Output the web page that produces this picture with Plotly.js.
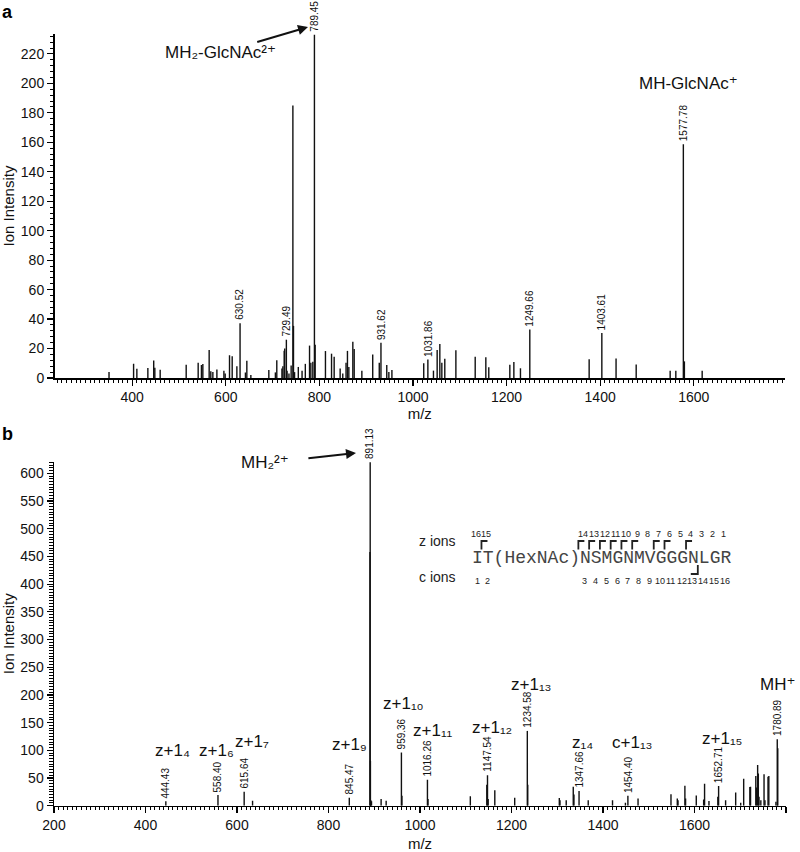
<!DOCTYPE html>
<html>
<head>
<meta charset="utf-8">
<script src="https://cdn.plot.ly/plotly-3.0.1.min.js"></script>
<style>html,body{margin:0;padding:0;background:#fff;}#chart{width:800px;height:852px;}</style>
</head>
<body>
<div id="chart"></div>
<script>
// ---------- Panel a data ----------
const peaksA_mz = [350.5,403,410,433.5,446,448.4,459.8,515.4,541,548,551,564.5,568,572.4,581,596,598.7,608,613.7,623.7,630.52,642,645,653.6,692,706,709,720,722,724.8,726,729.49,731,735,739.7,743.4,744.7,747,755,763,770,779,781.8,786,789.45,791,813,826,831.6,844.4,850,857,860,863,871.5,874.4,890.8,914,928,931.62,944,948.5,955,1023,1031.86,1043.8,1051.7,1057.4,1061.7,1068,1091.7,1133,1155.7,1162,1207,1215.6,1229.7,1249.66,1376.5,1403.61,1434,1477,1549.6,1561.7,1577.78,1580,1618];
const peaksA_int = [4,9.7,6.3,6.8,11.9,7,5.6,9,10.4,8.8,9.5,19,4.5,4,5.8,5,3,15.5,14.7,8,37.2,3.8,11.7,2,5.4,3.8,12,6.5,8,18.5,20,26,5,3,8.5,185,35.4,4,7.5,5,9.6,22,10.3,11,233,22.6,18.3,16.5,14.4,6.5,3,10.4,18.4,7.5,24.6,19.6,5,16,10.4,24,8.8,4,5.5,10,12.5,5,19,23,10.4,13,18.8,14.5,14,7.3,9,10.8,6.6,33,12.8,30.5,13.3,9.2,5,5,158.6,11.3,5];
const labelsA = [630.52,729.49,789.45,931.62,1031.86,1249.66,1403.61,1577.78];

// ---------- Panel b data ----------
const peaksB_mz = [444.43,558.40,615.64,634,845.47,890.63,891.13,891.63,892.5,894,915,926,959.36,960.5,1016.26,1017.5,1110,1146.0,1147.54,1149,1163.5,1207,1234.58,1235.5,1304.5,1306,1319.6,1335,1336.5,1347.66,1367.7,1420.8,1449,1454.40,1476.6,1548.6,1562.4,1564,1579,1580.5,1603.9,1620,1622,1631.6,1651,1652.71,1668,1690,1701,1707.5,1721,1722.5,1734,1735.5,1738,1739.5,1741,1745,1752,1754,1760.7,1762.5,1778,1780.89,1782];
const peaksB_int = [8,19.3,25,9,14.5,458,620,81,10,8,12,9,96,18,47,12,17,38,55,12,28,14.4,135,38,14,10,10,34,20,26.5,10,10,5.4,18,13,20.5,13,10,36,13,18.6,11,39.7,8.4,16,35.5,10,24,5.4,48.7,33.7,34,53.5,33,73.4,58,16,10,56.6,10,52.3,53.5,7,120,103.5];
const labelsB = [444.43,558.40,615.64,845.47,891.13,959.36,1016.26,1147.54,1234.58,1347.66,1454.40,1652.71,1780.89];

// fragment ion names (panel b) and their positions in data units
const ionNames = ['z+1₄','z+1₆','z+1₇','z+1₉','z+1₁₀','z+1₁₁','z+1₁₂','z+1₁₃','z₁₄','c+1₁₃','z+1₁₅','MH⁺'];
const ionX = [458.6,555.8,633.4,846.4,963.5,1027.7,1156.5,1243.9,1355.3,1463.4,1660,1782.4];
const ionY = [100.5,100.5,116.8,109.6,185,136.6,142,218,115,115,122,218];

// peptide sequence diagram
const sequence = 'IT(HexNAc)NSMGNMVGGGNLGR';
const zNumbers = ['16','15','14','13','12','11','10','9','8','7','6','5','4','3','2','1'];
const zNumberChar = [0,1,10,11,12,13,14,15,16,17,18,19,20,21,22,23];
const cNumbers = ['1','2','3','4','5','6','7','8','9','10','11','12','13','14','15','16'];
const cNumberChar = [0,1,10,11,12,13,14,15,16,17,18,19,20,21,22,23];
const zBracketChar = [1,10,11,12,13,14,15,17,18,20];
const cBracketChar = [20];

// ---------- build ----------
function sticks(mz, inten){
  const x=[], y=[];
  for(let i=0;i<mz.length;i++){ x.push(mz[i],mz[i],null); y.push(0,inten[i],null); }
  return {x,y};
}
const sA = sticks(peaksA_mz, peaksA_int);
const sB = sticks(peaksB_mz, peaksB_int);

const SANS = "'Liberation Sans',Arial,'DejaVu Sans',sans-serif";
const W=800, H=852;
const px = v => v/W, py = v => 1 - v/H;

const traces = [
  {x:sA.x, y:sA.y, xaxis:'x', yaxis:'y', mode:'lines', line:{color:'#111', width:1.4}, hoverinfo:'skip', showlegend:false},
  {x:sB.x, y:sB.y, xaxis:'x2', yaxis:'y2', mode:'lines', line:{color:'#111', width:1.4}, hoverinfo:'skip', showlegend:false}
];

const ann = [];
function addPeakLabels(list, mz, inten, xr, yr){
  list.forEach(v=>{
    const i = mz.indexOf(v);
    ann.push({x:v, y:inten[i], xref:xr, yref:yr, text:v.toFixed(2), showarrow:false, textangle:-90,
      xanchor:'center', yanchor:'bottom', yshift:1, font:{family:SANS, size:10, color:'#111'}});
  });
}
addPeakLabels(labelsA, peaksA_mz, peaksA_int, 'x', 'y');
addPeakLabels(labelsB, peaksB_mz, peaksB_int, 'x2', 'y2');

ionNames.forEach((t,i)=>{
  ann.push({x:ionX[i], y:ionY[i], xref:'x2', yref:'y2', xanchor:'center', yanchor:'middle', text:t, showarrow:false,
    font:{family:SANS, size:17, color:'#111'}});
});

// panel a big annotations (arrow head at the peak label, text offset in pixels)
ann.push({x:px(308), y:py(27), xref:'paper', yref:'paper', ax:-88, ay:26, text:'MH₂-GlcNAc²⁺',
  showarrow:true, arrowhead:2, arrowsize:1, arrowwidth:2, arrowcolor:'#111', font:{family:SANS,size:17,color:'#111'}});
ann.push({x:1588, y:200, xref:'x', yref:'y', xanchor:'center', yanchor:'middle', text:'MH-GlcNAc⁺', showarrow:false, font:{family:SANS,size:17,color:'#111'}});
// panel b
ann.push({x:px(356), y:py(453), xref:'paper', yref:'paper', ax:-91, ay:10, text:'MH₂²⁺',
  showarrow:true, arrowhead:2, arrowsize:1, arrowwidth:2, arrowcolor:'#111', startstandoff:18, font:{family:SANS,size:17,color:'#111'}});

// panel letters
ann.push({x:0, y:1, xref:'paper', yref:'paper', xanchor:'left', yanchor:'top', text:'<b>a</b>', showarrow:false, font:{family:SANS,size:18,color:'#000'}});
ann.push({x:0, y:py(422), xref:'paper', yref:'paper', xanchor:'left', yanchor:'top', text:'<b>b</b>', showarrow:false, font:{family:SANS,size:18,color:'#000'}});

// sequence diagram
const seqLeft = 471.7, charW = 10.767;
ann.push({x:px(seqLeft-2), y:py(558), xref:'paper', yref:'paper', xanchor:'left', yanchor:'middle', text:sequence, showarrow:false,
  font:{family:"'Liberation Mono','Courier New',monospace", size:18, color:'#444'}});
ann.push({x:px(458), y:py(541), xref:'paper', yref:'paper', xanchor:'right', yanchor:'middle', text:'z ions', showarrow:false, font:{family:SANS,size:14,color:'#222'}});
ann.push({x:px(458), y:py(577), xref:'paper', yref:'paper', xanchor:'right', yanchor:'middle', text:'c ions', showarrow:false, font:{family:SANS,size:14,color:'#222'}});
zNumbers.forEach((t,i)=>{
  ann.push({x:px(seqLeft + charW*(zNumberChar[i]+0.5) - 1.5), y:py(533.5), xref:'paper', yref:'paper', xanchor:'center', yanchor:'middle',
    text:t, showarrow:false, font:{family:SANS,size:9,color:'#222'}});
});
cNumbers.forEach((t,i)=>{
  ann.push({x:px(seqLeft + charW*(cNumberChar[i]+0.5)), y:py(581), xref:'paper', yref:'paper', xanchor:'center', yanchor:'middle',
    text:t, showarrow:false, font:{family:SANS,size:9,color:'#222'}});
});
const shapes = [];
zBracketChar.forEach(c=>{
  const x0 = seqLeft + charW*c - 1;
  shapes.push({type:'path', xref:'paper', yref:'paper',
    path:`M ${px(x0)} ${py(549.5)} L ${px(x0)} ${py(541)} L ${px(x0+6)} ${py(541)}`, line:{color:'#222', width:1.8}});
});
cBracketChar.forEach(c=>{
  const x1 = seqLeft + charW*(c+1);
  shapes.push({type:'path', xref:'paper', yref:'paper',
    path:`M ${px(x1)} ${py(565)} L ${px(x1)} ${py(574)} L ${px(x1-7)} ${py(574)}`, line:{color:'#222', width:1.8}});
});

const axCommon = {showline:true, linecolor:'#000', linewidth:1.5, ticks:'outside', ticklen:6, tickwidth:1.2, tickcolor:'#000',
  showgrid:false, zeroline:false, tickfont:{family:SANS, size:14, color:'#111'}};

const layout = {
  width:W, height:H, margin:{l:0,r:0,t:0,b:0}, paper_bgcolor:'#fff', plot_bgcolor:'#fff', showlegend:false,
  xaxis:Object.assign({}, axCommon, {domain:[54.5/W, 785/W], range:[234,1795], anchor:'y', dtick:200, tick0:0,
    minor:{dtick:10, ticklen:3, ticks:'outside', tickwidth:1, tickcolor:'#000'},
    title:{text:'m/z', font:{family:SANS,size:15,color:'#111'}, standoff:2}}),
  yaxis:Object.assign({}, axCommon, {domain:[py(378), py(34)], range:[0,233.5], anchor:'x', dtick:20, tick0:0,
    minor:{dtick:4, ticklen:3.5, ticks:'outside', tickwidth:1, tickcolor:'#000'},
    title:{text:'Ion Intensity', font:{family:SANS,size:15,color:'#111'}, standoff:8}}),
  xaxis2:Object.assign({}, axCommon, {domain:[54/W, 786/W], range:[200,1800], anchor:'y2', dtick:200, tick0:0,
    minor:{dtick:10, ticklen:3, ticks:'outside', tickwidth:1, tickcolor:'#000'},
    title:{text:'m/z', font:{family:SANS,size:15,color:'#111'}, standoff:6}}),
  yaxis2:Object.assign({}, axCommon, {domain:[py(805.7), py(461.7)], range:[0,621], anchor:'x2', dtick:50, tick0:0,
    minor:{dtick:5, ticklen:3.5, ticks:'outside', tickwidth:1, tickcolor:'#000'},
    title:{text:'Ion Intensity', font:{family:SANS,size:15,color:'#111'}, standoff:8}}),
  annotations:ann, shapes:shapes
};

Plotly.newPlot('chart', traces, layout, {staticPlot:true, displayModeBar:false});
</script>
</body>
</html>
